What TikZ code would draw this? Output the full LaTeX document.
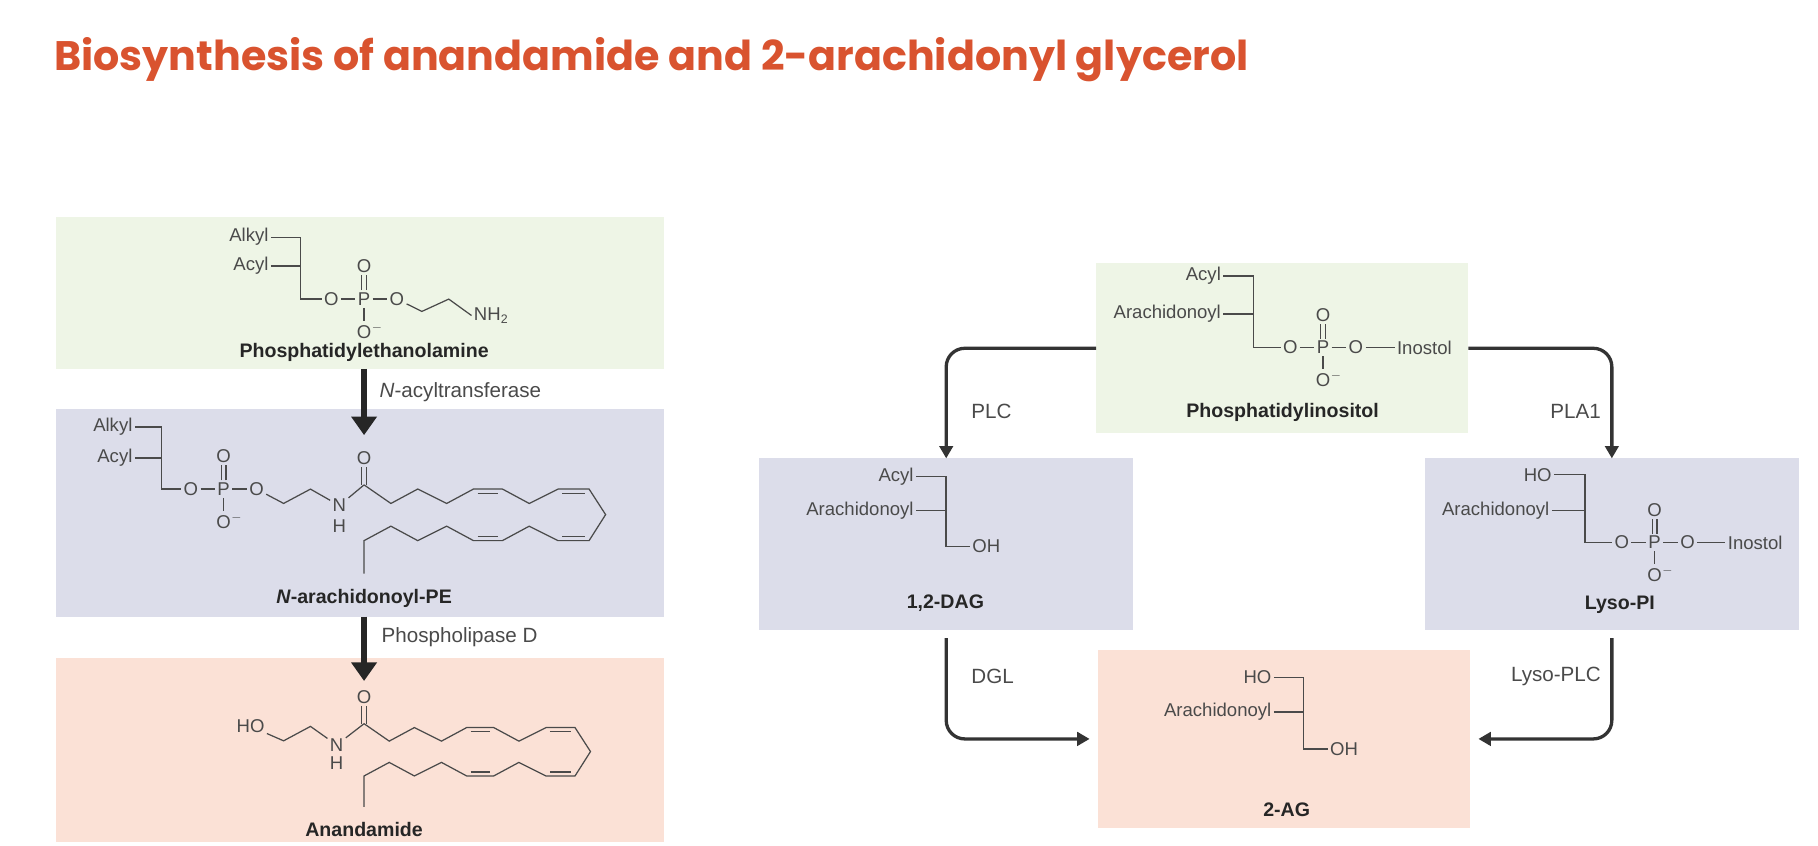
\documentclass[tikz,border=0pt]{standalone}
\usepackage{fontspec}
\setmainfont{Liberation Sans}
\newfontfamily\titlefont{Poppins}
\usetikzlibrary{arrows.meta,calc,positioning}
\definecolor{titlered}{HTML}{D9532F}
\definecolor{chemgray}{HTML}{4A4A4A}
\definecolor{boxgreen}{HTML}{EEF5E6}
\definecolor{boxblue}{HTML}{DCDDEA}
\definecolor{boxpink}{HTML}{FBE1D6}

% phosphate group around P: prefix, position
\newcommand\phosgrp[2]{%
  \node[atom] (#1p) at (#2) {P};
  \node[atom] (#1ol) at ($(#1p)+(-28,0)$) {O};
  \node[atom] (#1or) at ($(#1p)+(28,0)$) {O};
  \node[atom] (#1ot) at ($(#1p)+(0,-28)$) {O};
  \node[atom] (#1om) at ($(#1p)+(0,27)$) {O\rlap{\raisebox{.8ex}{\tiny$-$}}};
  \draw[bond] (#1ol) -- (#1p) -- (#1or);
  \draw[bond] (#1p) -- (#1om);
  \draw[bond] ([xshift=-1.1pt]#1p.north) -- ([xshift=-1.1pt]#1ot.south);
  \draw[bond] ([xshift=1.1pt]#1p.north) -- ([xshift=1.1pt]#1ot.south);
}
% arachidonoyl tail, drawn from the carbonyl carbon
\newcommand\arachain{%
  \draw[bond] (0,0) -- (65,45) -- (130,10) -- (200,45) -- (265,10) -- (335,10)
    -- (400,45) -- (470,10) -- (545,10) -- (585,72) -- (545,135) -- (470,135)
    -- (400,100) -- (335,135) -- (265,135) -- (200,100) -- (130,135) -- (65,100)
    -- (0,135) -- (0,215);
  \draw[bond] (275,20) -- (325,20) (480,20) -- (535,20)
    (480,125) -- (535,125) (275,125) -- (325,125);
}

\begin{document}
\begin{tikzpicture}[
  x=0.02cm, y=-0.02cm,
  bond/.style={draw=chemgray, line width=0.6pt},
  atom/.style={font=\fontsize{9}{10}\selectfont, text=chemgray, inner sep=1pt},
  molname/.style={font=\bfseries\fontsize{9.5}{11}\selectfont, text=black!85},
  enzyme/.style={font=\fontsize{10}{12}\selectfont, text=chemgray, anchor=west},
  box/.style={anchor=north west, inner sep=0pt, outer sep=0pt},
  larrow/.style={draw=black!85, line width=2.6pt, -{Triangle[width=12pt,length=9pt]}},
  rarrow/.style={draw=black!80, line width=1.6pt, rounded corners=9pt,
    -{Triangle[width=6.5pt,length=6pt]}}
  ]
  \useasboundingbox (0,0) rectangle (1550,721);
  \node[anchor=base west, text=titlered,
    font=\titlefont\bfseries\fontsize{20}{24}\selectfont] (title) at (40,60)
    {Biosynthesis of anandamide and 2-arachidonyl glycerol};

  % left panel
  \node[box, fill=boxgreen, minimum width=10.38cm, minimum height=2.6cm] (pe) at (47.5,184.6) {};
  \node[box, fill=boxblue, minimum width=10.38cm, minimum height=3.55cm] (ape) at (47.5,348.3) {};
  \node[box, fill=boxpink, minimum width=10.38cm, minimum height=3.14cm] (aea) at (47.5,561.2) {};

  % phosphatidylethanolamine
  \phosgrp{pe}{310.4,255}
  \node[atom, anchor=east] (pealkyl) at (231,202.2) {Alkyl};
  \node[atom, anchor=east] (peacyl) at (231,226.8) {Acyl};
  \coordinate (pebr) at (255.9,202.2);
  \draw[bond] (pealkyl) -- (pebr) -- (pebr |- peol) -- (peol);
  \draw[bond] (peacyl) -- (peacyl -| pebr);
  \coordinate (pec1) at (359.7,265.5);
  \coordinate (pec2) at (382.6,255);
  \node[atom, anchor=west] (penh) at (402,269) {NH\textsubscript{2}};
  \draw[bond] (peor) -- (pec1) -- (pec2) -- (penh.west);
  \node[molname] (pename) at (310.4,300.7) {Phosphatidylethanolamine};

  \coordinate (a1end) at (310.4,371);
  \draw[larrow] (pe.south -| pep) -- (a1end);
  \node[enzyme] (nat) at (317.5,334) {\textit{N}-acyltransferase};

  % N-arachidonoyl-PE
  \phosgrp{ape}{190.7,417}
  \node[atom, anchor=east] (apealkyl) at (115,364) {Alkyl};
  \node[atom, anchor=east] (apeacyl) at (115,390.5) {Acyl};
  \coordinate (apebr) at (138,364);
  \draw[bond] (apealkyl) -- (apebr) -- (apebr |- apeol) -- (apeol);
  \draw[bond] (apeacyl) -- (apeacyl -| apebr);
  \coordinate (apec) at (310.4,413.4);
  \coordinate (apec1) at (241.8,429.2);
  \coordinate (apec2) at (264.7,417);
  \node[atom] (apen) at (289.3,431) {N};
  \node[atom] (apeh) at (289.3,448.6) {H};
  \node[atom] (apeo) at (310.4,390.5) {O};
  \draw[bond] (apeor) -- (apec1) -- (apec2) -- (apen) -- (apec);
  \draw[bond] ([xshift=-1.1pt]apeo.south) -- ([xshift=-1.1pt]apec);
  \draw[bond] ([xshift=1.1pt]apeo.south) -- ([xshift=1.1pt]apec);
  \begin{scope}[shift={(apec)}, scale=0.352]
    \arachain
  \end{scope}
  \node[molname] (apename) at (310.4,510.2) {\textit{N}-arachidonoyl-PE};

  \coordinate (a2end) at (310.4,580.6);
  \draw[larrow] (ape.south -| apec) -- (a2end);
  \node[enzyme] (pld) at (319.2,543.6) {Phospholipase D};

  % anandamide
  \node[atom] (aeaho) at (213.6,619.3) {HO};
  \coordinate (aeac1) at (241.8,631.6);
  \coordinate (aeac2) at (264.7,619.3);
  \node[atom] (aean) at (287,635.1) {N};
  \node[atom] (aeah) at (287,651) {H};
  \coordinate (aeac) at (310.4,617);
  \node[atom] (aeao) at (310.4,594) {O};
  \draw[bond] (aeaho) -- (aeac1) -- (aeac2) -- (aean) -- (aeac);
  \draw[bond] ([xshift=-1.1pt]aeao.south) -- ([xshift=-1.1pt]aeac);
  \draw[bond] ([xshift=1.1pt]aeao.south) -- ([xshift=1.1pt]aeac);
  \begin{scope}[shift={(aeac)}, scale=0.33]
    \arachain
  \end{scope}
  \node[molname] (aeaname) at (310.4,707) {Anandamide};

  % right panel
  \node[box, fill=boxgreen, minimum width=6.35cm, minimum height=2.894cm] (pi) at (934.5,224.6) {};
  \node[box, fill=boxblue, minimum width=6.37cm, minimum height=2.924cm] (dag) at (647.5,390.8) {};
  \node[box, fill=boxblue, minimum width=6.37cm, minimum height=2.924cm] (lyso) at (1215,390.8) {};
  \node[box, fill=boxpink, minimum width=6.35cm, minimum height=3.04cm] (ag) at (936,554) {};

  % phosphatidylinositol
  \phosgrp{pi}{1128,296.3}
  \node[atom, anchor=east] (piacyl) at (1043,235.4) {Acyl};
  \node[atom, anchor=east] (piarach) at (1043,267.7) {Arachidonoyl};
  \coordinate (pibr) at (1068.5,235.4);
  \draw[bond] (piacyl) -- (pibr) -- (pibr |- piol) -- (piol);
  \draw[bond] (piarach) -- (piarach -| pibr);
  \node[atom, anchor=west] (piino) at (1189,296.3) {Inostol};
  \draw[bond] (pior) -- (piino);
  \node[molname] (piname) at (1093.5,351.7) {Phosphatidylinositol};

  % 1,2-DAG
  \node[atom, anchor=east] (dagacyl) at (781,406) {Acyl};
  \node[atom, anchor=east] (dagarach) at (781,435.4) {Arachidonoyl};
  \coordinate (dagbr) at (806.5,406);
  \node[atom, anchor=west] (dagoh) at (827,466) {OH};
  \draw[bond] (dagacyl) -- (dagbr) -- (dagbr |- dagoh) -- (dagoh);
  \draw[bond] (dagarach) -- (dagarach -| dagbr);
  \node[molname] (dagname) at (806,514) {1,2-DAG};

  % Lyso-PI
  \phosgrp{lyso}{1410.7,462.5}
  \node[atom, anchor=east] (lysoho) at (1325,404.7) {HO};
  \node[atom, anchor=east] (lysoarach) at (1323,435.4) {Arachidonoyl};
  \coordinate (lysobr) at (1351.4,404.7);
  \draw[bond] (lysoho) -- (lysobr) -- (lysobr |- lysool) -- (lysool);
  \draw[bond] (lysoarach) -- (lysoarach -| lysobr);
  \node[atom, anchor=west] (lysoino) at (1471,462.5) {Inostol};
  \draw[bond] (lysoor) -- (lysoino);
  \node[molname] (lysoname) at (1381,515.5) {Lyso-PI};

  % 2-AG
  \node[atom, anchor=east] (agho) at (1086,577.7) {HO};
  \node[atom, anchor=east] (agarach) at (1086,607) {Arachidonoyl};
  \coordinate (agbr) at (1111,577.7);
  \node[atom, anchor=west] (agoh) at (1132,638.6) {OH};
  \draw[bond] (agho) -- (agbr) -- (agbr |- agoh) -- (agoh);
  \draw[bond] (agarach) -- (agarach -| agbr);
  \node[molname] (agname) at (1097,690) {2-AG};

  % enzyme steps
  \draw[rarrow] (pi.west) -| (dag.north);
  \draw[rarrow] (pi.east) -| (lyso.north);
  \draw[rarrow] ([yshift=-4pt]dag.south) |- ([xshift=-4pt]ag.west);
  \draw[rarrow] ([yshift=-4pt]lyso.south) |- ([xshift=4pt]ag.east);
  \node[enzyme] (plc) at (822,351) {PLC};
  \node[enzyme, anchor=east] (pla) at (1371,351) {PLA1};
  \node[enzyme] (dgl) at (822,577) {DGL};
  \node[enzyme, anchor=east] (lysoplc) at (1371,577) {Lyso-PLC};
\end{tikzpicture}
\end{document}
